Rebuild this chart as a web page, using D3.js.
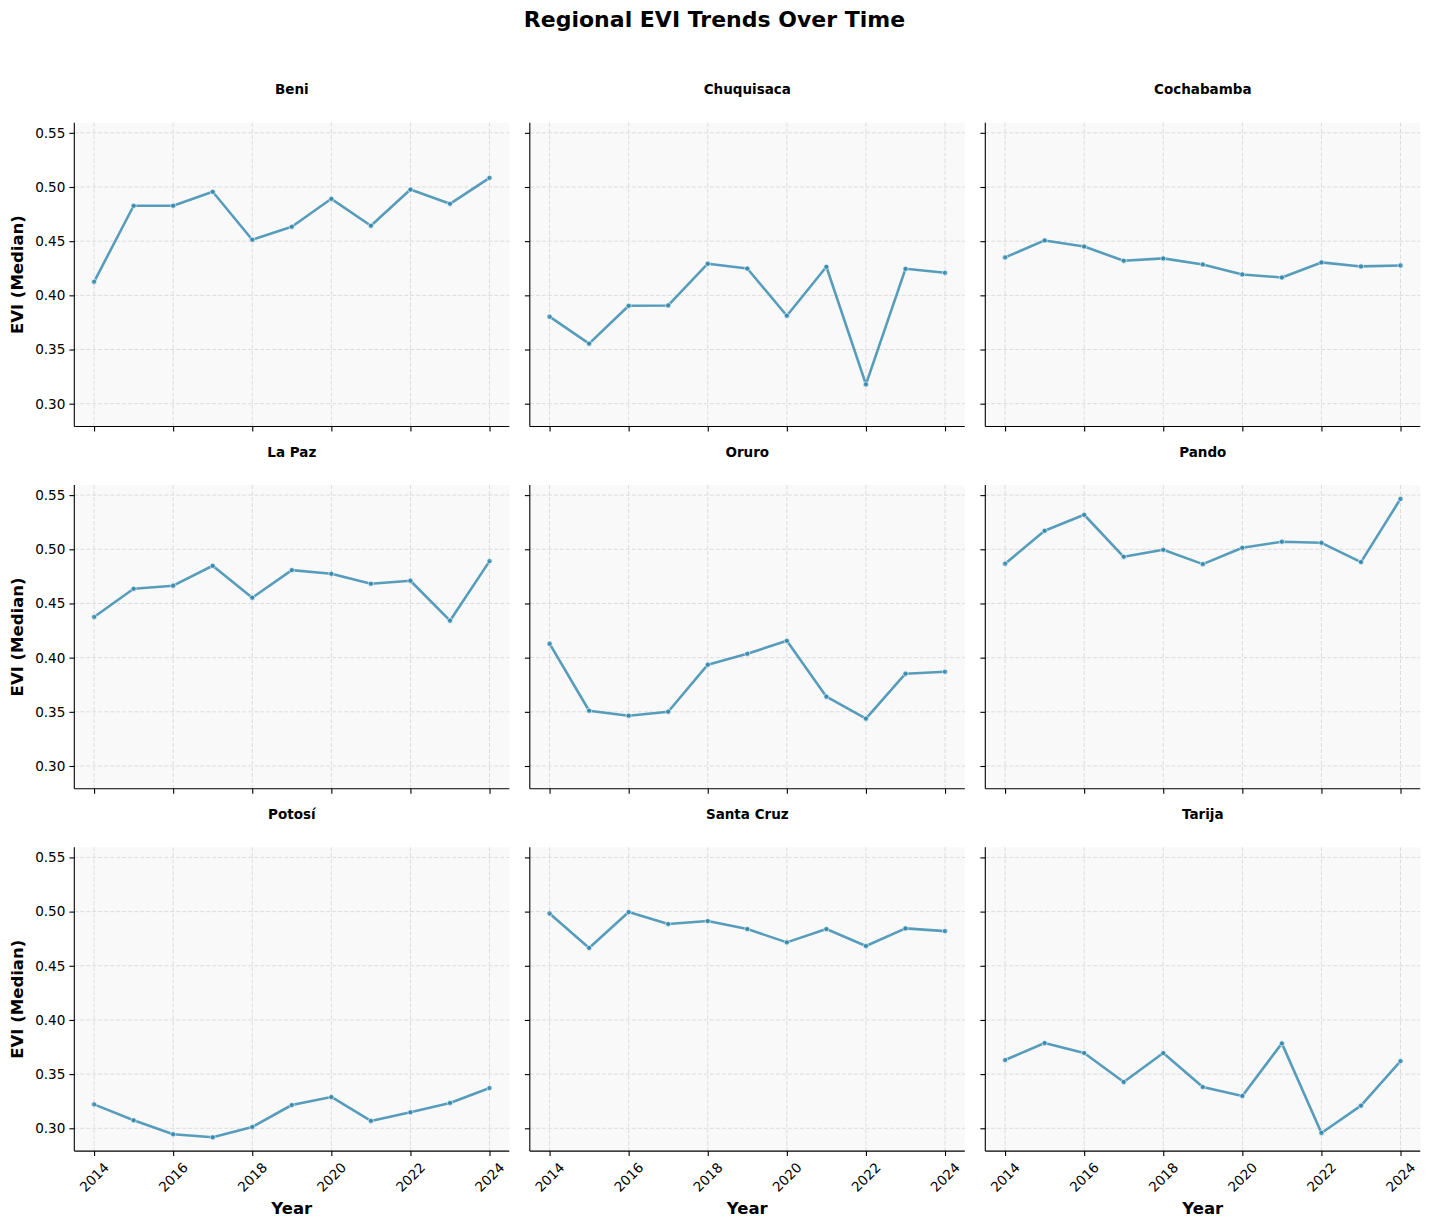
<!DOCTYPE html>
<html>
<head>
<meta charset="utf-8">
<script src="https://cdn.jsdelivr.net/npm/d3@7"></script>
<style>
  html, body { margin: 0; padding: 0; background: #ffffff; }
  svg { display: block; font-family: "DejaVu Sans", sans-serif; }
</style>
</head>
<body>
<svg id="chart" width="1429" height="1229"></svg>
<script>
// ---------- data ----------
const years = [2014, 2015, 2016, 2017, 2018, 2019, 2020, 2021, 2022, 2023, 2024];
const regions = ["Beni", "Chuquisaca", "Cochabamba", "La Paz", "Oruro", "Pando", "Potosí", "Santa Cruz", "Tarija"];

const beni       = [0.4125, 0.4827, 0.4827, 0.4956, 0.4513, 0.4633, 0.4891, 0.4642, 0.4977, 0.4845, 0.5085];
const chuquisaca = [0.3803, 0.3554, 0.3904, 0.3907, 0.4292, 0.4248, 0.3812, 0.4264, 0.3178, 0.4245, 0.4208];
const cochabamba = [0.4350, 0.4507, 0.4451, 0.4319, 0.4341, 0.4285, 0.4193, 0.4165, 0.4304, 0.4267, 0.4276];
const laPaz      = [0.4375, 0.4636, 0.4664, 0.4848, 0.4553, 0.4808, 0.4774, 0.4682, 0.4710, 0.4341, 0.4891];
const oruro      = [0.4129, 0.3510, 0.3464, 0.3501, 0.3935, 0.4036, 0.4156, 0.3640, 0.3437, 0.3852, 0.3870];
const pando      = [0.4867, 0.5171, 0.5319, 0.4931, 0.4996, 0.4863, 0.5014, 0.5070, 0.5060, 0.4882, 0.5466];
const potosi     = [0.3221, 0.3074, 0.2945, 0.2917, 0.3012, 0.3215, 0.3289, 0.3068, 0.3148, 0.3234, 0.3372];
const santaCruz  = [0.4983, 0.4664, 0.4996, 0.4885, 0.4913, 0.4839, 0.4716, 0.4839, 0.4682, 0.4845, 0.4820];
const tarija     = [0.3630, 0.3787, 0.3695, 0.3427, 0.3695, 0.3381, 0.3298, 0.3784, 0.2957, 0.3209, 0.3621];

const seriesValues = [beni, chuquisaca, cochabamba, laPaz, oruro, pando, potosi, santaCruz, tarija];

const yTickValues = [0.30, 0.35, 0.40, 0.45, 0.50, 0.55];
const xTickValues = [2014, 2016, 2018, 2020, 2022, 2024];

const titleText = "Regional EVI Trends Over Time";
const yLabelText = "EVI (Median)";
const xLabelText = "Year";

// ---------- layout ----------
const svg = d3.select("#chart");
const colLefts = [74.3, 529.8, 985.3];
const rowTops = [122.7, 485.0, 847.3];
const panelW = 435;
const panelH = 303.8;

const lineColor = "#2E86AB";
const gridColor = "#dcdcdc";
const bgColor = "#f9f9f9";

// shared scales (matplotlib-like 5% margins)
const allVals = seriesValues.flat();
const yMin = d3.min(allVals), yMax = d3.max(allVals);
const yPad = (yMax - yMin) * 0.05;
const xPad = (d3.max(years) - d3.min(years)) * 0.05;

const x = d3.scaleLinear().domain([d3.min(years) - xPad, d3.max(years) + xPad]).range([0, panelW]);
const y = d3.scaleLinear().domain([yMin - yPad, yMax + yPad]).range([panelH, 0]);

// title
svg.append("text")
  .attr("x", 714.5).attr("y", 27)
  .attr("text-anchor", "middle")
  .attr("font-size", "22px").attr("font-weight", "bold")
  .attr("fill", "#000")
  .text(titleText);

regions.forEach((name, i) => {
  const col = i % 3, row = Math.floor(i / 3);
  const g = svg.append("g").attr("transform", `translate(${colLefts[col]},${rowTops[row]})`);
  const vals = seriesValues[i];
  const data = years.map((yr, k) => ({ year: yr, v: vals[k] }));

  // background
  g.append("rect").attr("x", 0).attr("y", 0).attr("width", panelW).attr("height", panelH).attr("fill", bgColor);

  // grid
  g.append("g").selectAll("line.hg").data(yTickValues).join("line")
    .attr("x1", 0).attr("x2", panelW)
    .attr("y1", d => y(d)).attr("y2", d => y(d))
    .attr("stroke", gridColor).attr("stroke-width", 1).attr("stroke-dasharray", "4,2");
  g.append("g").selectAll("line.vg").data(xTickValues).join("line")
    .attr("y1", 0).attr("y2", panelH)
    .attr("x1", d => x(d)).attr("x2", d => x(d))
    .attr("stroke", gridColor).attr("stroke-width", 1).attr("stroke-dasharray", "4,2");

  // line
  const line = d3.line().x(d => x(d.year)).y(d => y(d.v));
  g.append("path").datum(data)
    .attr("d", line)
    .attr("fill", "none")
    .attr("stroke", lineColor).attr("stroke-opacity", 0.8)
    .attr("stroke-width", 2.6).attr("stroke-linejoin", "round").attr("stroke-linecap", "butt");

  g.append("g").selectAll("circle").data(data).join("circle")
    .attr("cx", d => x(d.year)).attr("cy", d => y(d.v)).attr("r", 2.6)
    .attr("fill", lineColor).attr("fill-opacity", 0.8)
    .attr("stroke", "#ffffff").attr("stroke-width", 0.6);

  // y axis
  const yAxis = d3.axisLeft(y).tickValues(yTickValues).tickSize(4.9).tickPadding(4)
    .tickFormat(col === 0 ? d3.format(".2f") : () => "");
  const ya = g.append("g").call(yAxis);
  ya.select(".domain").attr("stroke", "#000").attr("stroke-width", 1.1).attr("d", `M0,0V${panelH}`);
  ya.selectAll(".tick line").attr("stroke", "#000").attr("stroke-width", 1.1);
  ya.selectAll(".tick text").attr("font-size", "13.6px").attr("fill", "#000")
    .attr("font-family", "DejaVu Sans, sans-serif");

  // x axis
  const xAxis = d3.axisBottom(x).tickValues(xTickValues).tickSize(4.9).tickFormat(() => "");
  const xa = g.append("g").attr("transform", `translate(0,${panelH})`).call(xAxis);
  xa.select(".domain").attr("stroke", "#000").attr("stroke-width", 1.1).attr("d", `M0,0H${panelW}`);
  xa.selectAll(".tick line").attr("stroke", "#000").attr("stroke-width", 1.1);

  if (row === 2) {
    g.append("g").selectAll("text.xt").data(xTickValues).join("text")
      .attr("transform", d => `translate(${x(d)},${panelH + 26}) rotate(-45)`)
      .attr("text-anchor", "middle").attr("dominant-baseline", "central")
      .attr("font-size", "13.6px").attr("fill", "#000")
      .text(d => d3.format("d")(d));
    g.append("text")
      .attr("x", panelW / 2).attr("y", panelH + 63)
      .attr("text-anchor", "middle")
      .attr("font-size", "16.5px").attr("font-weight", "bold").attr("fill", "#000")
      .text(xLabelText);
  }

  if (col === 0) {
    g.append("text")
      .attr("transform", `translate(${17.5 - colLefts[0]},${panelH / 2}) rotate(-90)`)
      .attr("text-anchor", "middle").attr("dominant-baseline", "central")
      .attr("font-size", "16.5px").attr("font-weight", "bold").attr("fill", "#000")
      .text(yLabelText);
  }

  // panel title
  g.append("text")
    .attr("x", panelW / 2).attr("y", -28.5)
    .attr("text-anchor", "middle")
    .attr("font-size", "13.5px").attr("font-weight", "bold").attr("fill", "#000")
    .text(name);
});
</script>
</body>
</html>
